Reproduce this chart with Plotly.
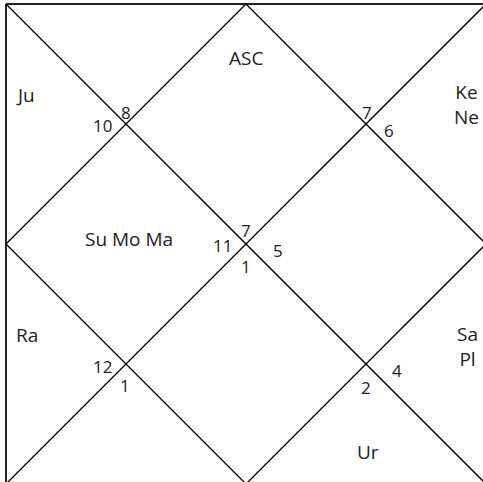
import plotly.graph_objects as go

# ---- data ----
house_signs = [7, 8, 10, 11, 12, 1, 1, 2, 4, 5, 6, 7]
sign_keys = ["c_top", "tl_top", "tl_left", "c_left", "bl_left", "bl_bot",
             "c_bot", "br_bot", "br_right", "c_right", "tr_right", "tr_top"]
planet_houses = ["ASC", "Ju", "Ke\nNe", "Su Mo Ma", "Ra", "Sa\nPl", "Ur"]
planet_keys = ["h1", "h3", "h11", "h2c", "h5", "h9", "h8"]

# ---- geometry (pixel space of the chart) ----
X0, Y0, S = 6, 4, 480
W, H = 483, 482

def P(u, v):
    return X0 + u * S, Y0 + v * S

sign_pos = {
    "c_top": (0.5, 0.472), "c_left": (0.45, 0.504), "c_right": (0.567, 0.513),
    "c_bot": (0.5, 0.546), "tl_top": (0.25, 0.225), "tl_left": (0.2, 0.254),
    "tr_top": (0.752, 0.227), "tr_right": (0.798, 0.263),
    "bl_left": (0.2, 0.756), "bl_bot": (0.248, 0.794),
    "br_bot": (0.75, 0.798), "br_right": (0.815, 0.763),
}
planet_pos = {
    "h1": (0.5, 0.113), "h3": (0.04, 0.19), "h11": (0.96, 0.21),
    "h2c": (0.256, 0.49), "h5": (0.044, 0.69), "h9": (0.962, 0.714),
    "h8": (0.754, 0.934),
}

fig = go.Figure()

# only the left and top sides of the square fall inside the view
segments = [((0, 1.01), (0, 0)), ((0, 0), (1.01, 0))]
diag = [
    ((0, 0), (1, 1)), ((1, 0), (0, 1)),
    ((0.5, 0), (1, 0.5)), ((1, 0.5), (0.5, 1)), ((0.5, 1), (0, 0.5)), ((0, 0.5), (0.5, 0)),
]
for (a, b) in segments:
    (x1, y1), (x2, y2) = P(*a), P(*b)
    fig.add_trace(go.Scatter(x=[x1, x2], y=[y1, y2], mode="lines",
                             line=dict(color="#222", width=2), hoverinfo="skip"))
for (a, b) in diag:
    (x1, y1), (x2, y2) = P(*a), P(*b)
    fig.add_trace(go.Scatter(x=[x1, x2], y=[y1, y2], mode="lines",
                             line=dict(color="#000", width=1.3), hoverinfo="skip"))

FONT = "Open Sans"
for num, key in zip(house_signs, sign_keys):
    x, y = P(*sign_pos[key])
    fig.add_annotation(x=x, y=y, text=str(num), showarrow=False,
                       font=dict(family=FONT, size=17, color="#222"))
for txt, key in zip(planet_houses, planet_keys):
    x, y = P(*planet_pos[key])
    fig.add_annotation(x=x, y=y, text=txt.replace("\n", "<br>"), showarrow=False,
                       align="center",
                       font=dict(family=FONT, size=19, color="#222"))

fig.update_layout(
    width=W, height=H, margin=dict(l=0, r=0, t=0, b=0),
    paper_bgcolor="white", plot_bgcolor="white", showlegend=False,
    xaxis=dict(range=[0, W], visible=False, fixedrange=True),
    yaxis=dict(range=[H, 0], visible=False, fixedrange=True),
)
fig.write_html("out.html", config={"displayModeBar": False},
               post_script="document.body.style.margin='0';document.body.style.overflow='hidden';")
